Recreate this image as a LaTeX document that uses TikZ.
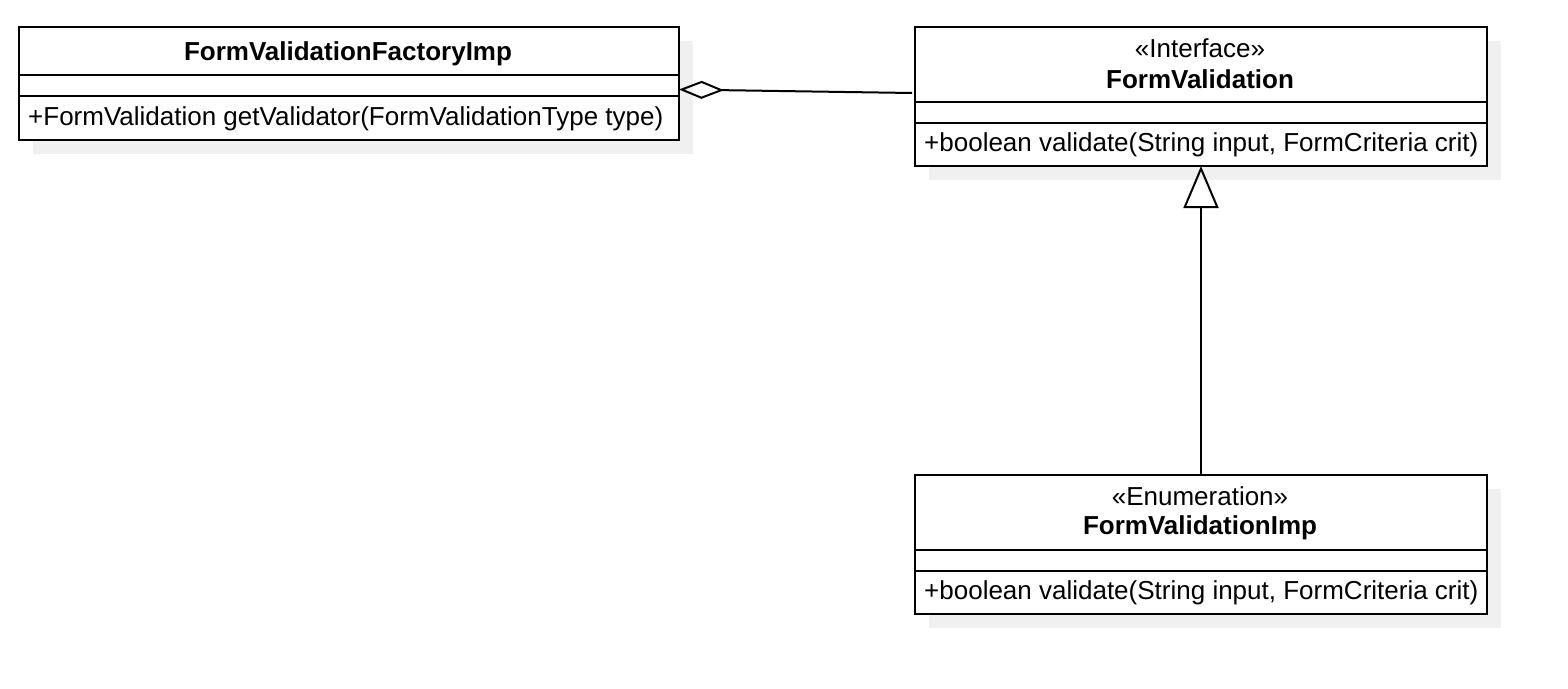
\documentclass[tikz,border=0pt]{standalone}
\usepackage{fontspec}
\setmainfont{Liberation Sans}
\usetikzlibrary{arrows.meta,shadows}
\begin{document}
\begin{tikzpicture}[x=1pt,y=-1pt,
  classbox/.style={draw=black,line width=2pt,fill=white,inner sep=0pt,anchor=north west,
    drop shadow={shadow xshift=14pt,shadow yshift=-14pt,fill=black!6,opacity=1}},
  sep/.style={draw=black,line width=2pt},
  txt/.style={inner sep=0pt,font=\fontsize{26}{30}\selectfont},
  btxt/.style={inner sep=0pt,font=\fontsize{26}{30}\selectfont\bfseries},
  conn/.style={draw=black,line width=2pt}]
\useasboundingbox (0,0) rectangle (1568,688);
% classes
\node[classbox,minimum width=660pt,minimum height=113pt] (A) at (18,26) {};
\node[classbox,minimum width=572pt,minimum height=139pt] (B) at (914,26) {};
\node[classbox,minimum width=572pt,minimum height=139pt] (C) at (914,474) {};
% compartments
\draw[sep] (A.west |- 0,75) -- (A.east |- 0,75);
\draw[sep] (A.west |- 0,96) -- (A.east |- 0,96);
\draw[sep] (B.west |- 0,102) -- (B.east |- 0,102);
\draw[sep] (B.west |- 0,123) -- (B.east |- 0,123);
\draw[sep] (C.west |- 0,550) -- (C.east |- 0,550);
\draw[sep] (C.west |- 0,571) -- (C.east |- 0,571);
% texts
\node[btxt] (At) at (348,53.5) {FormValidationFactoryImp};
\node[txt,anchor=west] (Am) at (28,118.5) {+FormValidation getValidator(FormValidationType type)};
\node[txt] (Bs) at (1200,48.5) {«Interface»};
\node[btxt] (Bt) at (1200,79) {FormValidation};
\node[txt,anchor=west] (Bm) at (924,144.5) {+boolean validate(String input, FormCriteria crit)};
\node[txt] (Cs) at (1200,496.5) {«Enumeration»};
\node[btxt] (Ct) at (1200,527.5) {FormValidationImp};
\node[txt,anchor=west] (Cm) at (924,592.5) {+boolean validate(String input, FormCriteria crit)};
% connectors
\draw[conn,{Diamond[open,length=45pt,width=18pt]}-] ([xshift=-1pt,yshift=-6pt]A.east) -- ([xshift=-2pt,yshift=3.5pt]B.west);
\draw[conn,-{Triangle[open,length=42pt,width=35pt]}] (C.north) -- ([yshift=1pt]B.south);
\end{tikzpicture}
\end{document}
